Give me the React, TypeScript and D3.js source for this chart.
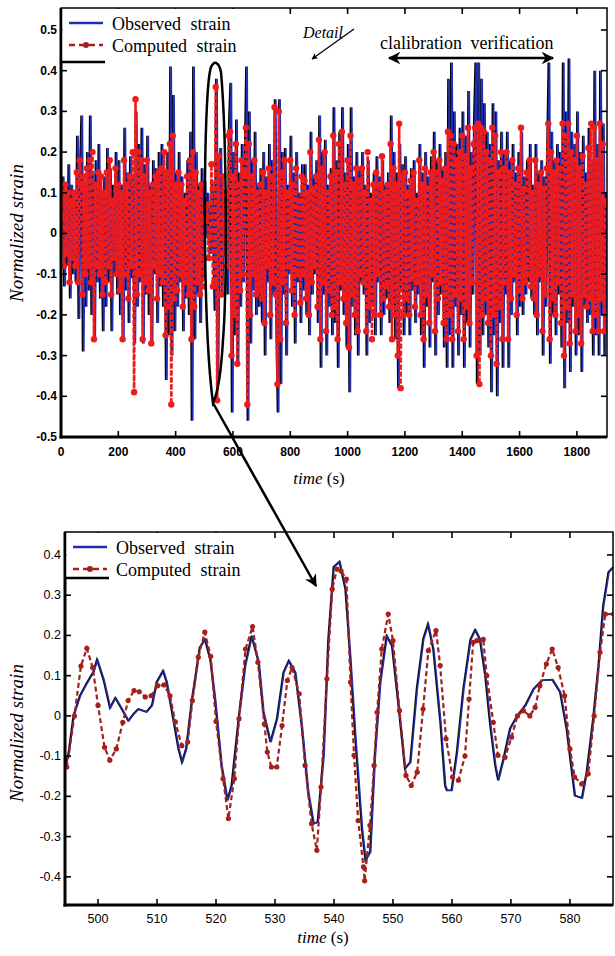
import React from 'react';
import * as d3 from 'd3';

// ---- top panel: whole record, one sample every 5 s (t = 0 ... 1900) ----
const topStep = 5;
const observedTop = [
  0.02, 0.14, -0.13, 0.10, -0.08, 0.17, -0.16, 0.12, -0.10, 0.08,
  -0.12, 0.24, -0.21, 0.15, 0.29, -0.29, 0.12, -0.18, 0.20, -0.14,
  0.29, -0.20, 0.15, -0.26, 0.18, -0.12, 0.22, -0.16, 0.10, -0.24,
  0.14, -0.18, 0.21, -0.12, 0.16, -0.24, 0.12, -0.10, 0.20, -0.15,
  0.18, -0.20, 0.12, -0.26, 0.26, -0.14, 0.15, -0.22, 0.19, -0.11,
  0.14, -0.27, 0.30, -0.18, 0.22, -0.12, 0.26, -0.27, 0.17, -0.15,
  0.24, -0.20, 0.12, -0.27, 0.18, -0.10, 0.16, -0.22, 0.20, -0.13,
  0.22, -0.18, 0.15, -0.36, 0.20, -0.25, 0.41, -0.30, 0.34, -0.24,
  0.15, -0.18, 0.20, -0.12, 0.14, -0.24, 0.10, -0.16, 0.18, -0.20,
  0.25, -0.46, 0.41, -0.26, 0.20, -0.15, 0.12, -0.22, 0.16, -0.11,
  0.13, -0.01, 0.10, 0.02, -0.05, 0.13, -0.02, -0.19, 0.38, -0.36,
  0.05, 0.21, -0.15, 0.10, -0.03, 0.09, -0.15, 0.27, 0.37, -0.44,
  0.20, -0.25, 0.28, -0.32, 0.15, -0.18, 0.22, -0.12, 0.18, 0.41,
  -0.46, 0.30, -0.27, 0.18, -0.14, 0.25, -0.20, 0.12, -0.18, 0.16,
  -0.22, 0.20, -0.30, 0.14, -0.12, 0.22, -0.26, 0.18, -0.15, 0.33,
  -0.20, -0.44, 0.33, -0.37, 0.20, -0.15, 0.21, -0.30, 0.12, -0.10,
  0.24, -0.18, 0.15, -0.27, 0.20, -0.12, 0.10, -0.22, 0.17, -0.14,
  0.17, -0.20, 0.12, -0.25, 0.25, -0.15, 0.14, -0.10, 0.18, -0.22,
  0.29, -0.33, 0.20, -0.15, 0.23, -0.30, 0.12, -0.18, 0.16, -0.25,
  0.31, -0.22, 0.18, -0.33, 0.25, -0.14, 0.31, -0.20, 0.15, -0.28,
  0.22, -0.39, 0.31, -0.18, 0.14, -0.25, 0.20, -0.30, 0.16, -0.12,
  0.20, -0.15, 0.12, -0.30, 0.18, -0.22, 0.10, -0.18, 0.15, -0.25,
  0.19, -0.12, 0.14, -0.25, 0.18, -0.20, 0.12, -0.16, 0.15, -0.22,
  0.29, -0.18, 0.20, -0.26, 0.15, -0.38, 0.22, -0.14, 0.17, -0.25,
  0.19, -0.20, 0.12, -0.25, 0.16, -0.14, 0.18, -0.22, 0.10, -0.15,
  0.22, -0.25, 0.15, -0.33, 0.20, -0.18, 0.14, -0.28, 0.19, -0.12,
  0.25, -0.30, 0.18, -0.20, 0.22, -0.15, 0.16, -0.28, 0.20, -0.33,
  0.38, -0.25, 0.42, -0.33, 0.30, -0.18, 0.22, -0.30, 0.26, -0.20,
  0.30, -0.33, 0.24, -0.22, 0.35, -0.28, 0.20, -0.15, 0.28, 0.42,
  -0.37, 0.42, -0.30, 0.38, -0.25, 0.32, -0.20, 0.25, -0.28, 0.22,
  -0.39, 0.32, -0.25, 0.30, -0.40, 0.18, -0.22, 0.25, -0.33, 0.20,
  -0.15, 0.25, -0.33, 0.18, -0.20, 0.22, -0.12, 0.15, -0.25, 0.20,
  -0.18, 0.25, -0.20, 0.14, -0.15, 0.18, -0.12, 0.22, -0.16, 0.12,
  -0.20, 0.22, -0.25, 0.15, -0.12, 0.18, -0.30, 0.14, -0.18, 0.20,
  0.42, -0.32, 0.25, -0.20, 0.18, -0.25, 0.22, -0.15, 0.20, -0.28,
  0.42, -0.38, 0.30, -0.22, 0.43, -0.34, 0.25, -0.18, 0.22, -0.30,
  0.30, -0.25, 0.20, -0.34, 0.24, -0.18, 0.15, -0.22, 0.26, -0.20,
  0.18, -0.30, 0.40, -0.25, 0.22, -0.30, 0.40, -0.20, 0.27, -0.30,
  0.10,
];
const computedTop = [
  0.04, 0.10, -0.08, 0.12, -0.05, 0.10, -0.12, 0.08, -0.06, 0.10,
  -0.08, 0.15, -0.12, 0.18, 0.12, -0.15, 0.14, -0.10, 0.16, -0.08,
  0.18, -0.12, 0.20, -0.26, 0.12, -0.08, 0.15, -0.10, 0.14, -0.15,
  0.10, -0.12, 0.15, -0.08, 0.18, -0.15, 0.08, -0.06, 0.16, -0.10,
  0.12, -0.14, 0.10, -0.26, 0.18, -0.10, 0.12, -0.16, 0.14, -0.08,
  0.20, -0.39, 0.33, -0.15, 0.20, -0.10, 0.18, -0.26, 0.14, -0.12,
  0.18, -0.14, 0.10, -0.27, 0.12, -0.08, 0.14, -0.16, 0.15, -0.10,
  0.16, -0.12, 0.20, -0.25, 0.15, -0.18, 0.22, -0.42, 0.24, -0.16,
  0.12, -0.14, 0.15, -0.10, 0.12, -0.18, 0.08, -0.12, 0.14, -0.15,
  0.18, -0.26, 0.20, -0.18, 0.15, -0.12, 0.10, -0.15, 0.12, -0.13,
  0.03, 0.04, 0.07, -0.06, -0.01, 0.17, -0.13, -0.12, 0.36, -0.41,
  0.19, 0.02, -0.15, 0.14, -0.05, 0.10, -0.08, 0.24, 0.25, -0.30,
  0.14, -0.20, 0.22, -0.32, 0.12, -0.14, 0.18, -0.10, 0.15, 0.26,
  -0.42, 0.22, -0.20, 0.14, -0.10, 0.18, -0.15, 0.10, -0.14, 0.12,
  -0.16, 0.15, -0.22, 0.10, -0.08, 0.16, -0.20, 0.14, -0.12, 0.31,
  -0.15, -0.37, 0.30, -0.26, 0.15, -0.12, 0.18, -0.22, 0.10, -0.08,
  0.18, -0.14, 0.12, -0.20, 0.16, -0.10, 0.08, -0.17, 0.14, -0.10,
  0.13, -0.16, 0.10, -0.20, 0.20, -0.12, 0.11, -0.08, 0.14, -0.18,
  0.23, -0.26, 0.16, -0.12, 0.20, -0.24, 0.10, -0.14, 0.14, -0.20,
  0.24, -0.18, 0.15, -0.26, 0.22, -0.12, 0.25, -0.16, 0.12, -0.22,
  0.18, -0.28, 0.24, -0.15, 0.12, -0.20, 0.16, -0.24, 0.13, -0.10,
  0.16, -0.12, 0.10, -0.24, 0.20, -0.18, 0.08, -0.26, 0.12, -0.20,
  0.15, -0.10, 0.12, -0.20, 0.19, -0.16, 0.10, -0.13, 0.12, -0.18,
  0.22, -0.26, 0.16, -0.20, 0.12, -0.30, 0.27, -0.38, 0.14, -0.20,
  0.15, -0.16, 0.10, -0.20, 0.13, -0.11, 0.15, -0.18, 0.08, -0.12,
  0.18, -0.20, 0.12, -0.26, 0.16, -0.15, 0.11, -0.22, 0.15, -0.10,
  0.20, -0.24, 0.15, -0.16, 0.18, -0.12, 0.13, -0.22, 0.16, -0.26,
  0.25, -0.20, 0.24, -0.26, 0.22, -0.15, 0.18, -0.24, 0.20, -0.16,
  0.24, -0.26, 0.19, -0.18, 0.26, -0.22, 0.16, -0.12, 0.22, 0.26,
  -0.30, 0.27, -0.37, 0.26, -0.20, 0.25, -0.16, 0.20, -0.22, 0.18,
  -0.30, 0.26, -0.20, 0.24, -0.32, 0.15, -0.18, 0.20, -0.26, 0.16,
  -0.12, 0.20, -0.26, 0.15, -0.16, 0.18, -0.10, 0.12, -0.20, 0.16,
  -0.14, 0.26, -0.16, 0.11, -0.12, 0.15, -0.10, 0.18, -0.13, 0.10,
  -0.16, 0.18, -0.20, 0.12, -0.10, 0.15, -0.24, 0.11, -0.15, 0.16,
  0.27, -0.26, 0.20, -0.16, 0.15, -0.20, 0.18, -0.12, 0.16, -0.22,
  0.27, -0.30, 0.24, -0.18, 0.27, -0.27, 0.20, -0.15, 0.18, -0.24,
  0.24, -0.20, 0.16, -0.27, 0.19, -0.15, 0.12, -0.18, 0.21, -0.16,
  0.27, -0.24, 0.26, -0.20, 0.18, -0.24, 0.27, -0.16, 0.22, -0.24,
  0.08,
];

// ---- bottom panel: detail 495 - 587 s ----
const detailObsTime = [
  494.5, 495.0, 495.8, 496.9, 498.0, 499.2, 499.8, 500.9, 502.0, 502.9, 504.0, 505.1, 506.0, 506.8,
  508.2, 509.1, 509.9, 511.0, 511.6, 512.8, 513.6, 514.2, 514.9, 515.9, 516.5, 517.2, 518.1, 519.0,
  519.8, 520.9, 521.9, 522.6, 523.8, 524.9, 526.0, 527.2, 528.0, 529.2, 530.3, 531.4, 532.3, 533.4,
  534.5, 535.6, 536.5, 537.2, 538.2, 539.0, 539.9, 540.9, 541.9, 542.7, 543.6, 544.7, 545.3, 546.1,
  546.9, 547.8, 548.9, 549.8, 550.9, 552.0, 552.9, 554.0, 555.1, 555.9, 556.8, 558.0, 558.8, 559.1,
  559.9, 560.8, 561.9, 563.1, 563.9, 564.7, 565.6, 566.4, 567.3, 567.8, 568.7, 569.8, 571.0, 572.4,
  573.8, 575.2, 577.0, 578.3, 579.4, 580.3, 580.8, 582.0, 582.8, 583.9, 584.8, 585.6, 586.0, 586.5,
  587.3,
];
const detailObs = [
  -0.12, -0.09, 0.0, 0.05, 0.08, 0.11, 0.14, 0.09, 0.02, 0.045, 0.017, -0.012, 0.005, 0.017,
  0.01, 0.026, 0.084, 0.112, 0.084, -0.015, -0.082, -0.115, -0.082, 0.042, 0.10, 0.17, 0.19, 0.14,
  0.042, -0.123, -0.21, -0.173, -0.007, 0.125, 0.199, 0.133, 0.009, -0.065, -0.007, 0.108, 0.137, 0.108,
  -0.024, -0.19, -0.268, -0.264, -0.098, 0.19, 0.37, 0.383, 0.315, 0.15, -0.057, -0.28, -0.359, -0.338,
  -0.098, 0.084, 0.199, 0.174, 0.026, -0.131, -0.115, 0.067, 0.191, 0.228, 0.166, -0.016, -0.173, -0.185,
  -0.185, -0.09, 0.067, 0.19, 0.214, 0.19, 0.10, -0.016, -0.123, -0.16, -0.107, -0.032, 0.0, 0.026,
  0.067, 0.088, 0.09, 0.059, -0.032, -0.14, -0.198, -0.204, -0.14, -0.007, 0.125, 0.274, 0.31, 0.357,
  0.37,
];
const detailCompTime = [
  494.7, 496.0, 497.1, 498.1, 499.1, 500.0, 501.1, 502.0, 503.1, 504.2, 505.1, 506.1, 507.0, 508.0,
  509.0, 510.1, 511.2, 512.2, 513.1, 514.2, 515.2, 516.0, 517.0, 518.1, 519.1, 520.0, 521.2, 522.1,
  523.1, 523.9, 525.0, 526.2, 527.1, 528.2, 528.7, 529.4, 530.3, 531.2, 532.1, 532.9, 534.1, 535.1,
  536.2, 537.1, 537.8, 538.8, 539.7, 540.5, 541.2, 542.1, 542.8, 543.4, 544.1, 545.0, 545.2, 546.1,
  546.8, 547.3, 548.1, 549.2, 550.0, 551.1, 552.2, 553.1, 554.1, 555.1, 556.0, 557.3, 558.0, 559.0,
  560.1, 561.1, 562.2, 562.9, 563.6, 564.2, 565.3, 565.9, 567.0, 567.8, 569.0, 570.1, 571.1, 572.1,
  573.2, 574.1, 574.9, 576.0, 577.0, 578.0, 579.1, 580.0, 580.8, 582.0, 583.1, 584.1, 585.1, 586.0,
  587.4,
];
const detailComp = [
  -0.127, 0.0, 0.124, 0.168, 0.12, 0.026, -0.078, -0.11, -0.082, -0.016, 0.038, 0.063, 0.06, 0.047,
  0.05, 0.075, 0.077, 0.05, -0.015, -0.074, -0.065, 0.038, 0.146, 0.208, 0.148, -0.014, -0.156, -0.255,
  -0.156, -0.007, 0.166, 0.222, 0.133, -0.02, -0.09, -0.127, -0.127, -0.024, 0.088, 0.12, 0.055, -0.123,
  -0.268, -0.334, -0.177, 0.092, 0.315, 0.365, 0.36, 0.34, 0.084, -0.098, -0.26, -0.375, -0.41, -0.272,
  -0.123, 0.009, 0.166, 0.253, 0.187, 0.013, -0.148, -0.173, -0.14, 0.017, 0.162, 0.212, 0.125, -0.057,
  -0.152, -0.16, -0.10, 0.042, 0.183, 0.187, 0.19, 0.10, -0.016, -0.098, -0.103, -0.053, 0.0, 0.013,
  0.0, 0.021, 0.075, 0.129, 0.166, 0.12, 0.05, -0.082, -0.152, -0.169, -0.144, 0.0, 0.158, 0.253,
  0.253,
];

const topXTicks = [0, 200, 400, 600, 800, 1000, 1200, 1400, 1600, 1800];
const topYTicks = [-0.5, -0.4, -0.3, -0.2, -0.1, 0, 0.1, 0.2, 0.3, 0.4, 0.5];
const botXTicks = [500, 510, 520, 530, 540, 550, 560, 570, 580];
const botYTicks = [-0.4, -0.3, -0.2, -0.1, 0, 0.1, 0.2, 0.3, 0.4];

const BLUE = '#1f2db4';
const RED = '#ee1c1c';
const DARKRED = '#a3201c';
const serif = '"Liberation Serif", "Times New Roman", serif';
const sans = '"Liberation Sans", Arial, sans-serif';

const topBox = { left: 61, right: 607, top: 8, bottom: 437 };
const botBox = { left: 65, right: 613, top: 532, bottom: 905 };

const xTop = d3.scaleLinear().domain([0, 1905]).range([topBox.left, topBox.right]);
const yTop = d3.scaleLinear().domain([-0.5, 0.554]).range([topBox.bottom, topBox.top]);
const xBot = d3.scaleLinear().domain([494.4, 587.3]).range([botBox.left, botBox.right]);
const yBot = d3.scaleLinear().domain([-0.47, 0.457]).range([botBox.bottom, botBox.top]);

const fmt = (v) => String(Math.round(v * 10) / 10);

function Frame({ box, xs, ys, xTicks, yTicks, tickFont, weight, xLabelDy }) {
  return (
    <g>
      <rect x={box.left} y={box.top} width={box.right - box.left} height={box.bottom - box.top}
        fill="none" stroke="#000" strokeWidth={1.5} />
      <line x1={box.left} x2={box.left} y1={box.top} y2={box.bottom + 1.5} stroke="#000" strokeWidth={3} />
      <line x1={box.left - 1.5} x2={box.right} y1={box.bottom} y2={box.bottom} stroke="#000" strokeWidth={3} />
      {xTicks.map((t) => (
        <g key={'x' + t}>
          <line x1={xs(t)} x2={xs(t)} y1={box.bottom} y2={box.bottom - 6} stroke="#000" strokeWidth={1.6} />
          <line x1={xs(t)} x2={xs(t)} y1={box.top} y2={box.top + 6} stroke="#000" strokeWidth={1.6} />
          <text x={xs(t)} y={box.bottom + xLabelDy} textAnchor="middle" fontFamily={sans}
            fontSize={tickFont} fontWeight={weight}>{t}</text>
        </g>
      ))}
      {yTicks.map((v) => (
        <g key={'y' + v}>
          <line x1={box.left} x2={box.left + 6} y1={ys(v)} y2={ys(v)} stroke="#000" strokeWidth={1.6} />
          <line x1={box.right} x2={box.right - 6} y1={ys(v)} y2={ys(v)} stroke="#000" strokeWidth={1.6} />
          <text x={box.left - 4} y={ys(v) + 4} textAnchor="end" fontFamily={sans}
            fontSize={tickFont} fontWeight={weight}>{fmt(v)}</text>
        </g>
      ))}
    </g>
  );
}

function Legend({ x, y, bottomY }) {
  return (
    <g>
      <rect x={x + 1.5} y={y} width={190} height={bottomY - y} fill="#fff" />
      <line x1={x - 1} x2={x + 44} y1={bottomY} y2={bottomY} stroke="#000" strokeWidth={2.5} />
      <line x1={x + 8} x2={x + 42} y1={y + 14} y2={y + 14} stroke={BLUE} strokeWidth={2.5} />
      <line x1={x + 8} x2={x + 42} y1={y + 36} y2={y + 36} stroke={DARKRED} strokeWidth={2.5} strokeDasharray="6 4" />
      <circle cx={x + 25} cy={y + 36} r={3} fill={DARKRED} />
      <text x={x + 51} y={y + 21} fontFamily={serif} fontSize={18} wordSpacing={5}>Observed strain</text>
      <text x={x + 51} y={y + 43} fontFamily={serif} fontSize={18} wordSpacing={5}>Computed strain</text>
    </g>
  );
}

export default function App() {
  const topT = observedTop.map((_, i) => i * topStep);
  const lineTop = d3.line<number>().x((_, i) => xTop(topT[i])).y((d) => yTop(d));
  const lineObsBot = d3.line<number>().x((_, i) => xBot(detailObsTime[i])).y((d) => yBot(d));
  const lineCompBot = d3.line<number>().x((_, i) => xBot(detailCompTime[i])).y((d) => yBot(d));

  return (
    <div style={{ position: 'absolute', left: 0, top: 0 }}>
      <svg width={615} height={956} style={{ display: 'block', background: '#fff' }}>
        <defs>
          <clipPath id="clipTop">
            <rect x={topBox.left} y={topBox.top} width={topBox.right - topBox.left} height={topBox.bottom - topBox.top} />
          </clipPath>
          <clipPath id="clipBot">
            <rect x={botBox.left} y={botBox.top} width={botBox.right - botBox.left} height={botBox.bottom - botBox.top} />
          </clipPath>
          <marker id="head" viewBox="0 0 10 10" refX="9" refY="5" markerWidth="5" markerHeight="5" orient="auto-start-reverse">
            <path d="M0,0 L10,5 L0,10 L3,5 Z" fill="#000" />
          </marker>
        </defs>

        {/* top panel */}
        <g clipPath="url(#clipTop)">
          <path d={lineTop(observedTop)} fill="none" stroke="#000" strokeWidth={1.5} />
          <path d={lineTop(observedTop)} fill="none" stroke={BLUE} strokeWidth={1.7} transform="translate(1.3,0)" />
          <path d={lineTop(computedTop)} fill="none" stroke={RED} strokeWidth={2.6} strokeDasharray="5 2" />
          {computedTop.map((v, i) => (
            <circle key={i} cx={xTop(topT[i])} cy={yTop(v)} r={3.2} fill={RED} />
          ))}
        </g>
        <Frame box={topBox} xs={xTop} ys={yTop} xTicks={topXTicks} yTicks={topYTicks} tickFont={12} weight="bold" xLabelDy={19} />
        <Legend x={topBox.left} y={topBox.top + 1} bottomY={62} />

        {/* annotations */}
        <text x={303} y={38} fontFamily={serif} fontStyle="italic" fontSize={16}>Detail</text>
        <line x1={354} y1={29} x2={312} y2={59} stroke="#000" strokeWidth={1.3} markerEnd="url(#head)" />
        <text x={380} y={49} fontFamily={serif} fontSize={18} wordSpacing={4}>clalibration verification</text>
        <line x1={389} y1={58} x2={553} y2={58} stroke="#000" strokeWidth={2.5} markerStart="url(#head)" markerEnd="url(#head)" />
        <path d="M213,403 C202,320 203,90 211,67 C214,60 219,62 221,72 C227,140 227,290 223,340 C221,375 217,395 213,403 Z"
          fill="none" stroke="#000" strokeWidth={2.5} />
        <line x1={213} y1={403} x2={316} y2={586} stroke="#000" strokeWidth={2.5} markerEnd="url(#head)" />

        <text transform="translate(23,233) rotate(-90)" textAnchor="middle" fontFamily={serif} fontStyle="italic" fontSize={19}>Normalized strain</text>
        <text x={319} y={484} textAnchor="middle" fontFamily={serif} fontSize={17}>
          <tspan fontStyle="italic">time</tspan> (s)
        </text>

        {/* bottom panel */}
        <g clipPath="url(#clipBot)">
          <path d={lineObsBot(detailObs)} fill="none" stroke="#111" strokeWidth={1.8} />
          <path d={lineObsBot(detailObs)} fill="none" stroke={BLUE} strokeWidth={1.3} transform="translate(0.9,0)" />
          <path d={lineCompBot(detailComp)} fill="none" stroke={DARKRED} strokeWidth={2.2} strokeDasharray="5 3" />
          {detailComp.map((v, i) => (
            <circle key={i} cx={xBot(detailCompTime[i])} cy={yBot(v)} r={2.6} fill={DARKRED} />
          ))}
        </g>
        <Frame box={botBox} xs={xBot} ys={yBot} xTicks={botXTicks} yTicks={botYTicks} tickFont={12.5} weight="normal" xLabelDy={18} />
        <Legend x={botBox.left} y={botBox.top + 1} bottomY={578} />

        <text transform="translate(23,733) rotate(-90)" textAnchor="middle" fontFamily={serif} fontStyle="italic" fontSize={19}>Normalized strain</text>
        <text x={323} y={943} textAnchor="middle" fontFamily={serif} fontSize={17}>
          <tspan fontStyle="italic">time</tspan> (s)
        </text>
      </svg>
    </div>
  );
}
